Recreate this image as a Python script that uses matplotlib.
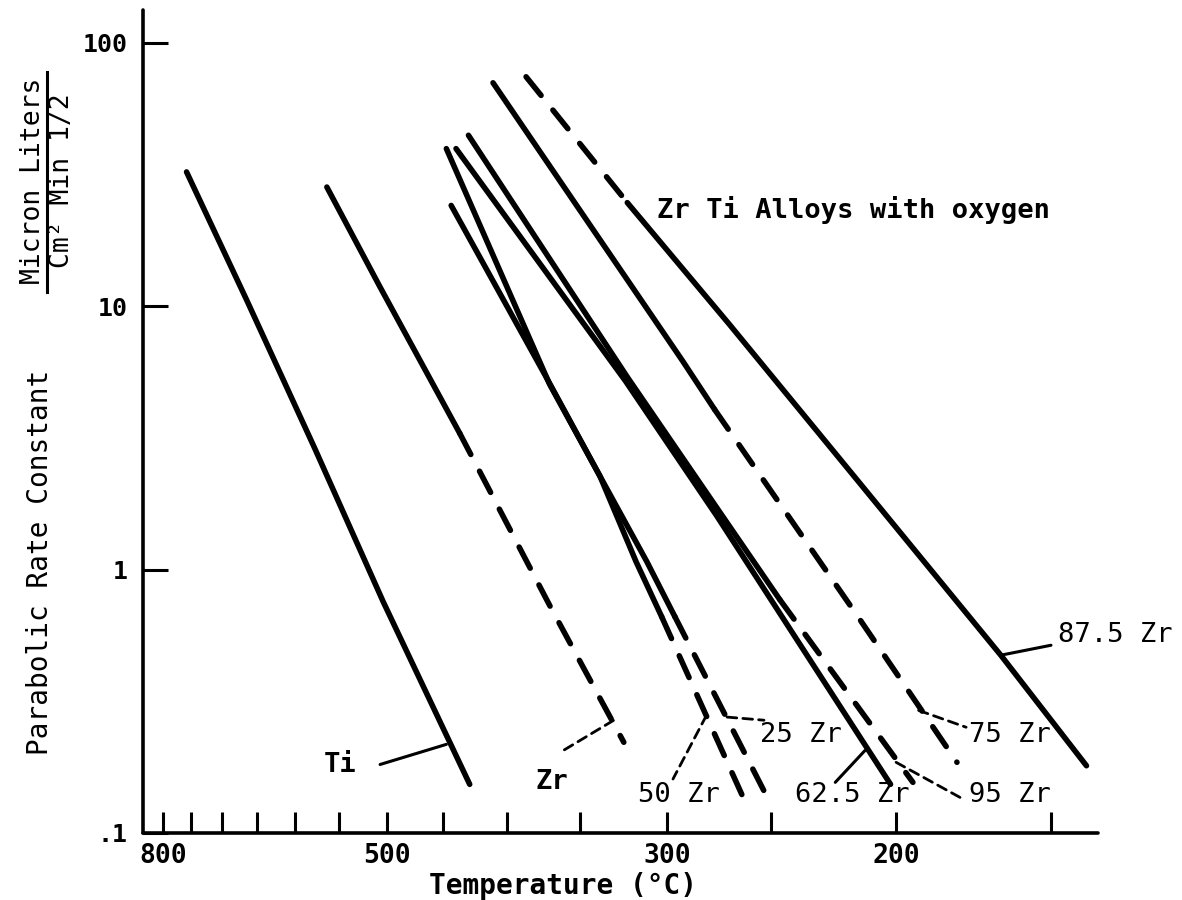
import numpy as np
import matplotlib
matplotlib.use("Agg")
import matplotlib.pyplot as plt
from matplotlib.lines import Line2D
from matplotlib.ticker import NullLocator, FixedLocator, FixedFormatter

# ---------------- data (temperature in deg C, parabolic rate constant) -------------
ti_T = [758, 664, 577, 504, 428]
ti_k = [32.3, 10.5, 2.89, 0.755, 0.153]

zr_T = [563, 507, 436, 370, 324]
zr_k = [28.3, 11.8, 3.29, 0.733, 0.221]
zr_split = 2

zr25_T = [447, 370, 338, 311, 296, 252]
zr25_k = [39.6, 5.06, 2.26, 1.07, 0.662, 0.139]
zr25_split = 4

zr50_T = [443, 372, 338, 317, 303, 260]
zr50_k = [24.1, 5.35, 2.26, 1.07, 0.662, 0.123]
zr50_split = 4

zr625_T = [439, 323, 275, 202]
zr625_k = [39.6, 5.19, 1.60, 0.153]

zr75_T = [410, 292, 276, 215, 179]
zr75_k = [70.4, 6.19, 4.05, 0.681, 0.1855]
zr75_split = 2

zr875_T = [386, 322, 269, 213, 165, 140]
zr875_k = [74.2, 24.7, 8.54, 2.10, 0.473, 0.180]
zr875_split = 1

zr95_T = [429, 322, 273, 246, 194]
zr95_k = [44.5, 5.38, 1.63, 0.768, 0.1557]
zr95_split = 3

tick_temps = [800, 750, 700, 650, 600, 550, 500, 450, 400, 350, 300, 250, 200, 150]
labeled_temps = [800, 500, 300, 200]
y_ticks = [0.1, 1, 10, 100]
y_tick_labels = [".1", "1", "10", "100"]

# ---------------- layout (annotation anchors, in (deg C, k)) ----------------
leaders = [
    # (T1, k1, T2, k2, dashed)
    (447, 0.217, 507, 0.182, False),     # Ti
    (330, 0.2675, 361, 0.2056, True),    # Zr
    (270, 0.2754, 253, 0.268, True),     # 25 Zr
    (280, 0.2795, 297, 0.1603, True),    # 50 Zr
    (211.5, 0.2056, 223, 0.1557, False), # 62.5 Zr
    (192, 0.292, 176, 0.252, True),      # 75 Zr
    (200, 0.1855, 178, 0.1365, True),    # 95 Zr
    (165, 0.473, 150, 0.516, False),     # 87.5 Zr
]
labels = [
    ("Ti", 548, 0.1815, "center", "bold"),
    ("Zr", 368.5, 0.1557, "center", "bold"),
    ("25 Zr", 255, 0.235, "left", "normal"),
    ("50 Zr", 316, 0.140, "left", "normal"),
    ("62.5 Zr", 239.5, 0.140, "left", "normal"),
    ("75 Zr", 175, 0.235, "left", "normal"),
    ("95 Zr", 175, 0.140, "left", "normal"),
    ("87.5 Zr", 148, 0.565, "left", "normal"),
    ("Zr Ti Alloys with oxygen", 305.5, 23.1, "left", "bold"),
]

MONO = "DejaVu Sans Mono"


def inv(T):
    return 1000.0 / (np.asarray(T, dtype=float) + 273.15)


W, H = 1182, 900
fig = plt.figure(figsize=(W / 100, H / 100), dpi=100)
ax = fig.add_axes([143 / W, (H - 833) / H, (1098 - 143) / W, (833 - 10) / H])
ax.set_yscale("log")
ax.set_xlim(0.8996, 2.439)
ax.set_ylim(0.1, 133)

for s in ["top", "right"]:
    ax.spines[s].set_visible(False)
for s in ["left", "bottom"]:
    ax.spines[s].set_linewidth(2.6)
    ax.spines[s].set_capstyle("round")

LW = 4.0
solid = dict(color="black", lw=LW, solid_capstyle="round", solid_joinstyle="round")
dashed = dict(color="black", lw=LW, linestyle=(0, (4.3, 3.4)), dash_capstyle="round",
              dash_joinstyle="round")


def draw(T, k, split=None, first="solid"):
    x = inv(T)
    k = np.asarray(k, dtype=float)
    if split is None:
        ax.plot(x, k, **solid)
        return
    a = solid if first == "solid" else dashed
    b = dashed if first == "solid" else solid
    ax.plot(x[:split + 1], k[:split + 1], **a)
    ax.plot(x[split:], k[split:], **b)


draw(ti_T, ti_k)
draw(zr_T, zr_k, zr_split)
draw(zr25_T, zr25_k, zr25_split)
draw(zr50_T, zr50_k, zr50_split)
draw(zr625_T, zr625_k)
draw(zr75_T, zr75_k, zr75_split)
draw(zr875_T, zr875_k, zr875_split, first="dashed")
draw(zr95_T, zr95_k, zr95_split)

for T1, k1, T2, k2, d in leaders:
    if d:
        ax.plot(inv([T1, T2]), [k1, k2], color="black", lw=2.0,
                linestyle=(0, (3.5, 2.2)), dash_capstyle="round")
    else:
        ax.plot(inv([T1, T2]), [k1, k2], color="black", lw=2.2, solid_capstyle="round")

for txt, T, k, ha, wt in labels:
    ax.text(inv(T), k, txt, ha=ha, va="center", fontsize=19.5, family=MONO,
            fontweight=wt, color="black")

# ticks
ax.xaxis.set_major_locator(FixedLocator(inv(tick_temps)))
ax.xaxis.set_major_formatter(FixedFormatter(
    [str(t) if t in labeled_temps else "" for t in tick_temps]))
ax.xaxis.set_minor_locator(NullLocator())
ax.yaxis.set_major_locator(FixedLocator(y_ticks))
ax.yaxis.set_major_formatter(FixedFormatter(y_tick_labels))
ax.yaxis.set_minor_locator(NullLocator())
ax.tick_params(axis="x", direction="in", length=15, width=2.2, pad=7, labelsize=19)
ax.tick_params(axis="y", direction="in", length=18, width=2.2, pad=11, labelsize=18)
for lbl in ax.get_xticklabels() + ax.get_yticklabels():
    lbl.set_family(MONO)
    lbl.set_fontweight("bold")

# axis titles
fig.text(563 / W, 1 - 886 / H, "Temperature (°C)", ha="center", va="center",
         fontsize=20, family=MONO, fontweight="bold")
fig.text(40 / W, 1 - 562 / H, "Parabolic Rate Constant", rotation=90,
         ha="center", va="center", fontsize=20, family=MONO)
fig.text(33 / W, 1 - 181 / H, "Micron Liters", rotation=90,
         ha="center", va="center", fontsize=19, family=MONO)
fig.text(62 / W, 1 - 181 / H, "Cm² Min 1/2", rotation=90,
         ha="center", va="center", fontsize=19, family=MONO)
fig.add_artist(Line2D([47 / W, 47 / W], [1 - 72 / H, 1 - 292 / H],
                      transform=fig.transFigure, color="black", lw=2.2))

fig.savefig("out.png", dpi=100)
